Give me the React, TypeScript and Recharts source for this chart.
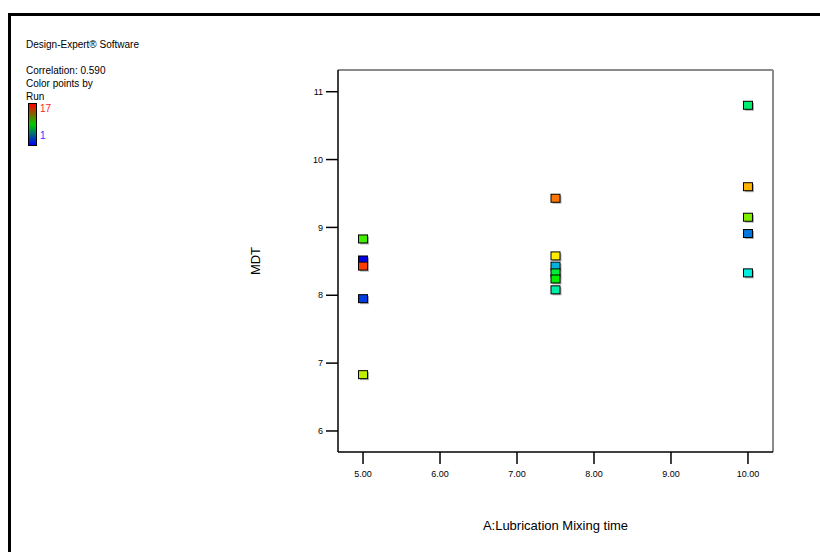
import React from 'react';
import {
  ScatterChart,
  Scatter,
  XAxis,
  YAxis,
  ReferenceLine,
  Label,
} from 'recharts';

// Lubrication mixing time (factor A) for each run
const LUB_TIME = [5, 5, 10, 7.5, 10, 7.5, 10, 7.5, 7.5, 5, 10, 5, 7.5, 10, 7.5, 5];
// Response MDT for each run
const MDT = [8.52, 7.95, 8.91, 8.43, 8.33, 8.08, 10.8, 8.33, 8.24, 8.83, 9.15, 6.83, 8.58, 9.6, 9.43, 8.43];
// Run number (used for point colour)
const RUN = [1, 2, 3, 4, 5, 6, 7, 8, 9, 10, 11, 12, 13, 14, 15, 16];
const RUN_MIN = 1;
const RUN_MAX = 17;

const X_TICKS = [5, 6, 7, 8, 9, 10];
const Y_TICKS = [6, 7, 8, 9, 10, 11];
const X_DOMAIN = [4.675, 10.325];
const Y_DOMAIN = [5.69, 11.32];

const FONT = 'Arial, "Liberation Sans", sans-serif';

// blue -> cyan -> green -> yellow -> red
const STOPS = [
  [0, 0, 225],
  [0, 238, 220],
  [0, 238, 0],
  [255, 238, 0],
  [255, 0, 0],
];

const runColor = (run: number) => {
  const t = (run - RUN_MIN) / (RUN_MAX - RUN_MIN);
  const pos = t * (STOPS.length - 1);
  const i = Math.min(Math.floor(pos), STOPS.length - 2);
  const f = pos - i;
  const c = STOPS[i].map((v, k) => Math.round(v + (STOPS[i + 1][k] - v) * f));
  return `rgb(${c[0]},${c[1]},${c[2]})`;
};

const data = LUB_TIME.map((x, i) => ({ x, y: MDT[i], run: RUN[i] }));

const SquarePoint = (props: any) => {
  const { cx, cy, payload } = props;
  if (cx == null || cy == null) return null;
  const w = 9;
  const h = 8;
  return (
    <g>
      <rect x={cx - w / 2 + 1.5} y={cy - h / 2 + 1.5} width={w} height={h} fill="#b0b0b0" />
      <rect
        x={cx - w / 2}
        y={cy - h / 2}
        width={w}
        height={h}
        fill={runColor(payload.run)}
        stroke="#000"
        strokeWidth={1}
      />
    </g>
  );
};

const YTitle = (props: any) => {
  const { viewBox } = props;
  const x = viewBox.x - 23;
  const y = viewBox.y + viewBox.height / 2;
  return (
    <text
      x={x}
      y={y}
      transform={`rotate(-90, ${x}, ${y})`}
      textAnchor="middle"
      dominantBaseline="central"
      fontSize={13}
      fontFamily={FONT}
      fill="#000"
    >
      MDT
    </text>
  );
};

const App: React.FC = () => {
  return (
    <div
      style={{
        position: 'absolute',
        left: 0,
        top: 0,
        width: 820,
        height: 552,
        background: '#fff',
        overflow: 'hidden',
        fontFamily: FONT,
      }}
    >
      {/* outer frame */}
      <div
        style={{
          position: 'absolute',
          left: 8,
          top: 13,
          width: 840,
          height: 560,
          borderTop: '3px solid #000',
          borderLeft: '3px solid #000',
        }}
      />

      {/* info block */}
      <div style={{ position: 'absolute', left: 26, top: 38, fontSize: 10, lineHeight: '13px', color: '#000' }}>
        Design-Expert® Software
      </div>
      <div style={{ position: 'absolute', left: 26, top: 64, fontSize: 10, lineHeight: '13px', color: '#000' }}>
        <div>Correlation: 0.590</div>
        <div>Color points by</div>
        <div>Run</div>
      </div>
      <div
        style={{
          position: 'absolute',
          left: 28,
          top: 103,
          width: 7,
          height: 41,
          border: '1px solid #000',
          background: 'linear-gradient(to bottom, #ff0000, #00cc00, #0000ff)',
        }}
      />
      <div style={{ position: 'absolute', left: 40, top: 103, fontSize: 10, lineHeight: '12px', color: '#ff2020' }}>
        {RUN_MAX}
      </div>
      <div style={{ position: 'absolute', left: 40, top: 130, fontSize: 10, lineHeight: '12px', color: '#3030ff' }}>
        {RUN_MIN}
      </div>

      <div style={{ position: 'absolute', left: 0, top: 0 }}>
        <ScatterChart
          width={820}
          height={552}
          margin={{ top: 70, right: 47, bottom: 60, left: 278 }}
        >
          <XAxis
            type="number"
            dataKey="x"
            domain={X_DOMAIN}
            ticks={X_TICKS}
            allowDataOverflow
            tickFormatter={(v: number) => v.toFixed(2)}
            tickSize={12}
            tickMargin={7}
            height={40}
            axisLine={{ stroke: '#000', strokeWidth: 1.5 }}
            tickLine={{ stroke: '#000', strokeWidth: 1.5 }}
            tick={{ fontSize: 9, fill: '#000', fontFamily: FONT }}
          >
            <Label
              value="A:Lubrication Mixing time"
              position="bottom"
              offset={29}
              fontSize={13}
              fill="#000"
              fontFamily={FONT}
            />
          </XAxis>
          <YAxis
            type="number"
            dataKey="y"
            domain={Y_DOMAIN}
            ticks={Y_TICKS}
            allowDataOverflow
            width={60}
            tickSize={12}
            tickMargin={3}
            axisLine={{ stroke: '#000', strokeWidth: 1.5 }}
            tickLine={{ stroke: '#000', strokeWidth: 1.5 }}
            tick={{ fontSize: 9, fill: '#000', fontFamily: FONT }}
          >
            <Label content={<YTitle />} />
          </YAxis>
          <ReferenceLine y={Y_DOMAIN[1]} stroke="#8a8a8a" strokeWidth={2} ifOverflow="visible" />
          <ReferenceLine x={X_DOMAIN[1]} stroke="#8a8a8a" strokeWidth={2} ifOverflow="visible" />
          <Scatter data={data} shape={<SquarePoint />} isAnimationActive={false} />
        </ScatterChart>
      </div>
    </div>
  );
};

export default App;
